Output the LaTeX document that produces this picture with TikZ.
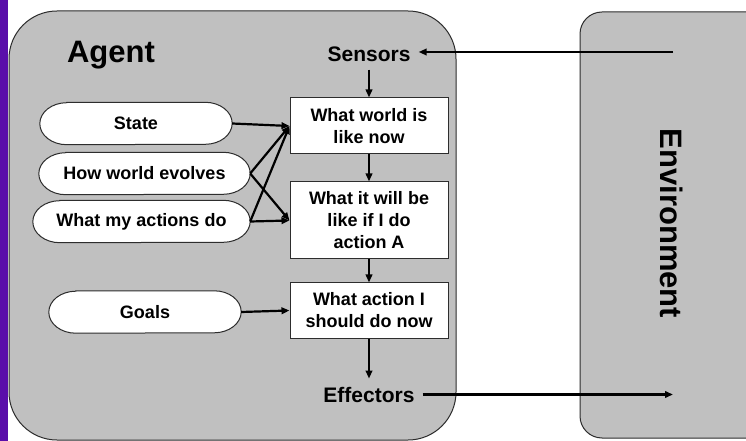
\documentclass[tikz,border=0pt]{standalone}
\usepackage{fontspec}
\setmainfont{Liberation Sans}
\usetikzlibrary{arrows.meta}
\pgfdeclarelayer{back}
\pgfdeclarelayer{mid}
\pgfsetlayers{back,mid,main}
\definecolor{panelgray}{RGB}{192,192,192}
\definecolor{edgegray}{RGB}{45,45,45}
\definecolor{barpurple}{RGB}{90,14,170}
\tikzset{
  panel/.style={fill=panelgray, draw=edgegray, line width=1bp},
  pilltext/.style={inner sep=0pt, minimum height=42bp, font=\fontsize{18bp}{21.5bp}\selectfont\bfseries},
  pilloutline/.style={fill=white, draw=edgegray, line width=1bp},
  stepbox/.style={draw=edgegray, fill=white, line width=1bp, minimum width=158bp, inner sep=0pt, align=center, font=\fontsize{18bp}{22bp}\selectfont\bfseries},
  bigword/.style={font=\fontsize{31bp}{31bp}\selectfont\bfseries, inner sep=0pt},
  portword/.style={font=\fontsize{21bp}{21bp}\selectfont\bfseries, inner sep=8bp},
  arr/.style={line width=2.2bp, -{Triangle[length=8bp,width=6.5bp]}},
}
\newcommand{\pillshape}[1]{%
  \draw[pilloutline] ([xshift=27bp]#1.north west) -- ([xshift=-27bp]#1.north east)
    arc[start angle=90,end angle=-90,x radius=27bp,y radius=21bp]
    -- ([xshift=27bp]#1.south west)
    arc[start angle=-90,end angle=-270,x radius=27bp,y radius=21bp] -- cycle;}
\begin{document}
\begin{tikzpicture}[x=1bp,y=-1bp]
\useasboundingbox (0,0) rectangle (746,441);
\clip (0,0) rectangle (746,441);
\begin{pgfonlayer}{back}
  \fill[white] (0,0) rectangle (746,441);
  \fill[barpurple] (0,0) rectangle (8,441);
  \draw[panel, rounded corners=48bp] (9,11) rectangle (456,440);
  \draw[panel, rounded corners=22bp] (580,12) rectangle (775,438);
\end{pgfonlayer}

\node[bigword, anchor=base] (agent) at (111,63) {Agent};
\node[bigword, rotate=-90] (env) at (671.5,223.5) {Environment};

\node[pilltext, minimum width=192bp] (state) at (136,123.5) {State};
\node[pilltext, minimum width=211bp] (evolves) at (144.5,173.5) {How world evolves};
\node[pilltext, minimum width=217bp] (actions) at (141.5,221.5) {What my actions do};
\node[pilltext, minimum width=192bp] (goals) at (145,312) {Goals};
\begin{pgfonlayer}{mid}
  \pillshape{state}
  \pillshape{evolves}
  \pillshape{actions}
  \pillshape{goals}
\end{pgfonlayer}

\node[stepbox, minimum height=56bp] (now) at (369,126) {What world is\\like now};
\node[stepbox, minimum height=77bp] (ifdo) at (369,220.5) {What it will be\\like if I do\\action A};
\node[stepbox, minimum height=55bp] (act) at (369,310.5) {What action I\\should do now};

\node[portword] (sensors) at (369,54) {Sensors};
\node[portword] (effectors) at (369,394.5) {Effectors};

\coordinate (envin) at (673,52);
\coordinate (envout) at (673,394);

\draw[arr] (envin) -- (envin -| sensors.east);
\draw[arr] (effectors.east) -- (envout |- effectors.east);
\draw[arr] (sensors.south) -- (now.north);
\draw[arr] (now.south) -- (ifdo.north);
\draw[arr] (ifdo.south) -- (act.north);
\draw[arr] (act.south) -- (effectors.north);

\draw[arr] (state.east) -- (now.west);
\draw[arr] (evolves.east) -- (now.west);
\draw[arr] (evolves.east) -- (ifdo.west);
\draw[arr] (actions.east) -- (now.west);
\draw[arr] (actions.east) -- (ifdo.west);
\draw[arr] (goals.east) -- (act.west);
\end{tikzpicture}
\end{document}
